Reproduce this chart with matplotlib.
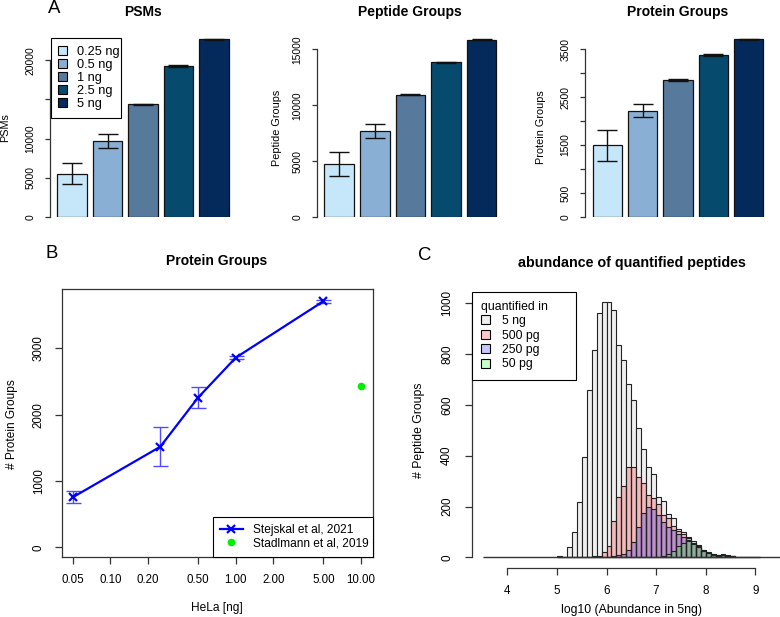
import numpy as np
import matplotlib
matplotlib.use('Agg')
import matplotlib.pyplot as plt
from matplotlib.patches import Patch
from matplotlib.lines import Line2D

plt.rcParams['font.family'] = ['Liberation Sans', 'DejaVu Sans']

# ---- panel A: identifications per load (mean, sd) ----
conc_labels = ['0.25 ng', '0.5 ng', '1 ng', '2.5 ng', '5 ng']
bar_colors = ['#c6e6fa', '#8aafd5', '#56799c', '#064b6e', '#042a5c']
psm_mean = [5530, 9660, 14380, 19280, 22680]
psm_sd = [1380, 900, 90, 90, 70]
pep_mean = [4710, 7720, 10950, 13830, 15860]
pep_sd = [1070, 610, 60, 30, 60]
prot_mean = [1490, 2215, 2847, 3375, 3701]
prot_sd = [330, 130, 20, 25, 12]

# ---- panel B: protein groups vs HeLa amount ----
hela_ng = [0.05, 0.25, 0.5, 1.0, 5.0]
pg_mean = [754, 1517, 2257, 2860, 3710]
pg_sd = [93, 292, 158, 25, 25]
stadlmann_ng = [10.0]
stadlmann_pg = [2437]
b_xticks = [0.05, 0.1, 0.2, 0.5, 1, 2, 5, 10]
b_xticklabels = ['0.05', '0.10', '0.20', '0.50', '1.00', '2.00', '5.00', '10.00']

# ---- panel C: histogram counts, bins of 0.1 starting at 5.0 ----
bin_left = np.round(np.arange(5.0, 9.01, 0.1), 1)
cnt_5ng = [5, 2, 39, 98, 217, 394, 659, 816, 961, 1004,
           1004, 974, 836, 777, 681, 621, 510, 426, 354, 328,
           236, 222, 170, 154, 112, 101, 81, 64, 49, 30,
           20, 14, 10, 12, 8, 6, 3, 3, 2, 1,
           1]
cnt_500pg = [0, 0, 0, 0, 0, 0, 2, 4, 7, 20,
             46, 144, 239, 282, 357, 357, 318, 291, 245, 232,
             208, 167, 156, 125, 105, 92, 75, 58, 45, 28,
             18, 12, 9, 10, 7, 5, 3, 2, 2, 1,
             1]
cnt_250pg = [0, 0, 0, 0, 0, 0, 0, 0, 0, 0,
             2, 4, 8, 15, 30, 62, 120, 173, 197, 190,
             165, 140, 118, 108, 92, 80, 68, 55, 42, 26,
             17, 11, 8, 9, 6, 5, 3, 2, 2, 1,
             1]
cnt_50pg = [0, 0, 0, 0, 0, 0, 0, 0, 0, 0,
            0, 0, 0, 0, 0, 0, 0, 0, 1, 2,
            3, 6, 12, 25, 45, 58, 63, 52, 40, 25,
            16, 10, 7, 8, 6, 5, 3, 2, 2, 1,
            1]
hist_labels = ['5 ng', '500 pg', '250 pg', '50 pg']
hist_colors = ['#efefef', (1, 0, 0, 0.22), (0, 0, 1, 0.22), (0, 1, 0, 0.22)]
hist_range = (3.5, 9.5)

W, H = 780, 617
fig = plt.figure(figsize=(W / 100, H / 100), dpi=100)


def px_axes(l, t, r, b):
    return fig.add_axes([l / W, 1 - b / H, (r - l) / W, (b - t) / H])


def ftext(x, y, s, **kw):
    fig.text(x / W, 1 - y / H, s, **kw)


axis_col = '#333333'

# ---------------- Panel A ----------------
a_specs = [
    (50.1, 235.7, psm_mean, psm_sd, 22810, [0, 5000, 10000, 15000, 20000],
     ['0', '5000', '10000', '', '20000'], 'PSMs', 143, 5, 'PSMs'),
    (316.9, 503.5, pep_mean, pep_sd, 15984, [0, 5000, 10000, 15000],
     ['0', '5000', '10000', '15000'], 'Peptide Groups', 410, 277, 'Peptide Groups'),
    (585.3, 770.3, prot_mean, prot_sd, 3723, list(range(0, 3501, 500)),
     ['0', '500', '', '1500', '', '2500', '', '3500'], 'Protein Groups', 678, 541, 'Protein Groups'),
]
centers = 0.7 + 1.2 * np.arange(len(conc_labels))
for i, (l, r, mean, sd, ytop, yt, ytl, title, tx, lx, ylab) in enumerate(a_specs):
    ax = px_axes(l, 38.3, r, 217)
    ax.bar(centers, mean, width=1.0, color=bar_colors, edgecolor='#111111', linewidth=0.9,
           yerr=sd, capsize=7.2,
           error_kw=dict(ecolor='#111111', elinewidth=1.0, capthick=1.0))
    ax.set_xlim(-0.05, 6.24)
    ax.set_ylim(0, ytop)
    for s in ['top', 'right', 'bottom']:
        ax.spines[s].set_visible(False)
    ax.spines['left'].set_bounds(yt[0], yt[-1])
    ax.spines['left'].set_color(axis_col)
    ax.spines['left'].set_linewidth(0.9)
    ax.set_xticks([])
    ax.set_yticks(yt)
    ax.set_yticklabels(ytl, rotation=90, va='center')
    ax.tick_params(axis='y', length=3.6, width=0.9, pad=7, labelsize=7.4, color=axis_col)
    ftext(tx, 16.3, title, ha='center', va='baseline', fontsize=10, fontweight='bold')
    ftext(lx, 127.5, ylab, ha='center', va='center', rotation=90, fontsize=7.8)
    if i == 0:
        handles = [Patch(facecolor=c, edgecolor='black', linewidth=0.8) for c in bar_colors]
        leg_w = 70.0 / (r - l)
        leg = ax.legend(handles, conc_labels, loc='upper left', bbox_to_anchor=(0.003, 1, leg_w, 0),
                        mode='expand', borderaxespad=0, fontsize=9.2, frameon=True, fancybox=False,
                        edgecolor='black', framealpha=1, handlelength=0.65, handleheight=0.65,
                        handletextpad=0.85, labelspacing=0.08, borderpad=0.6)
        leg.get_frame().set_linewidth(0.8)

ftext(54, 8.5, 'A', ha='center', va='center', fontsize=13.4)

# ---------------- Panel B ----------------
axb = px_axes(61.7, 289.3, 372.7, 556.7)
axb.errorbar(hela_ng, pg_mean, yerr=pg_sd, fmt='none', ecolor='#4d4dff', elinewidth=1.0,
             capsize=5.4, capthick=1.0)
axb.plot(hela_ng, pg_mean, color='blue', lw=1.6, marker='x', ms=6, mew=1.6)
axb.plot(stadlmann_ng, stadlmann_pg, ls='none', marker='o', ms=4.5, color='#00ee00')
axb.set_xscale('log')
axb.set_xlim(10 ** -1.389, 10 ** 1.093)
axb.set_ylim(-142, 3891)
axb.set_xticks(b_xticks)
axb.set_xticklabels(b_xticklabels)
axb.xaxis.set_minor_locator(matplotlib.ticker.NullLocator())
axb.set_yticks([0, 1000, 2000, 3000])
axb.set_yticklabels(['0', '1000', '2000', '3000'], rotation=90, va='center')
axb.tick_params(axis='both', length=5, width=0.9, pad=7.2, labelsize=8.3, color=axis_col)
for s in axb.spines.values():
    s.set_color(axis_col)
    s.set_linewidth(0.9)
b_handles = [Line2D([], [], color='blue', lw=1.6, marker='x', ms=6, mew=1.6),
             Line2D([], [], ls='none', marker='o', ms=4.5, color='#00ee00')]
legb_w = 160.0 / 311.0
legb = axb.legend(b_handles, ['Stejskal et al, 2021', 'Stadlmann et al, 2019'], loc='lower right',
                  bbox_to_anchor=(1 - legb_w, 0, legb_w, 0), mode='expand',
                  borderaxespad=0, fontsize=8.6, fancybox=False, edgecolor='black', framealpha=1,
                  handlelength=1.9, handletextpad=0.9, labelspacing=0.12, borderpad=0.6)
legb.get_frame().set_linewidth(0.8)
ftext(216.7, 265, 'Protein Groups', ha='center', va='baseline', fontsize=10, fontweight='bold')
ftext(11.7, 424, '# Protein Groups', ha='center', va='center', rotation=90, fontsize=8.6)
ftext(216.7, 608, 'HeLa [ng]', ha='center', va='center', fontsize=8.6)
ftext(51.7, 253.3, 'B', ha='center', va='center', fontsize=13.4)

# ---------------- Panel C ----------------
axc = px_axes(471.7, 292.1, 780, 567.5)
axc.hlines(0, hist_range[0], hist_range[1], color=axis_col, lw=1.0)
for cnt, col in zip([cnt_5ng, cnt_500pg, cnt_250pg, cnt_50pg], hist_colors):
    axc.bar(bin_left, cnt, width=0.1, align='edge', color=col, edgecolor='#222222', linewidth=0.8)
axc.set_xlim(3.28, 9.50)
axc.set_ylim(-40, 1044)
for s in ['top', 'right']:
    axc.spines[s].set_visible(False)
axc.spines['left'].set_bounds(0, 1000)
axc.spines['bottom'].set_bounds(4, 9)
for s in ['left', 'bottom']:
    axc.spines[s].set_color(axis_col)
    axc.spines[s].set_linewidth(0.9)
axc.set_xticks([4, 5, 6, 7, 8, 9])
axc.set_yticks([0, 200, 400, 600, 800, 1000])
axc.set_yticklabels(['0', '200', '400', '600', '800', '1000'], rotation=90, va='center')
axc.tick_params(axis='y', length=4.8, width=0.9, pad=8.6, labelsize=8.4, color=axis_col)
axc.tick_params(axis='x', length=4.8, width=0.9, pad=8, labelsize=8.4, color=axis_col)
c_handles = [Patch(facecolor=c, edgecolor='black', linewidth=0.8) for c in hist_colors]
legc_w = 104.3 / 308.3
legc = axc.legend(c_handles, hist_labels, title='quantified in', loc='upper left',
                  bbox_to_anchor=(0, 1.002, legc_w, 0), mode='expand', borderaxespad=0,
                  fontsize=8.8, title_fontsize=8.8,
                  fancybox=False, edgecolor='black', framealpha=1, handlelength=0.75,
                  handleheight=0.75, handletextpad=0.95, labelspacing=0.2, borderpad=0.75,
                  alignment='left')
legc.get_frame().set_linewidth(0.8)
ftext(631.7, 267.3, 'abundance of quantified peptides', ha='center', va='baseline',
      fontsize=10.3, fontweight='bold')
ftext(419, 430, '# Peptide Groups', ha='center', va='center', rotation=90, fontsize=8.8)
ftext(631.7, 610, 'log10 (Abundance in 5ng)', ha='center', va='center', fontsize=8.8)
ftext(425, 255, 'C', ha='center', va='center', fontsize=13.4)

fig.savefig('out.png', dpi=100)
